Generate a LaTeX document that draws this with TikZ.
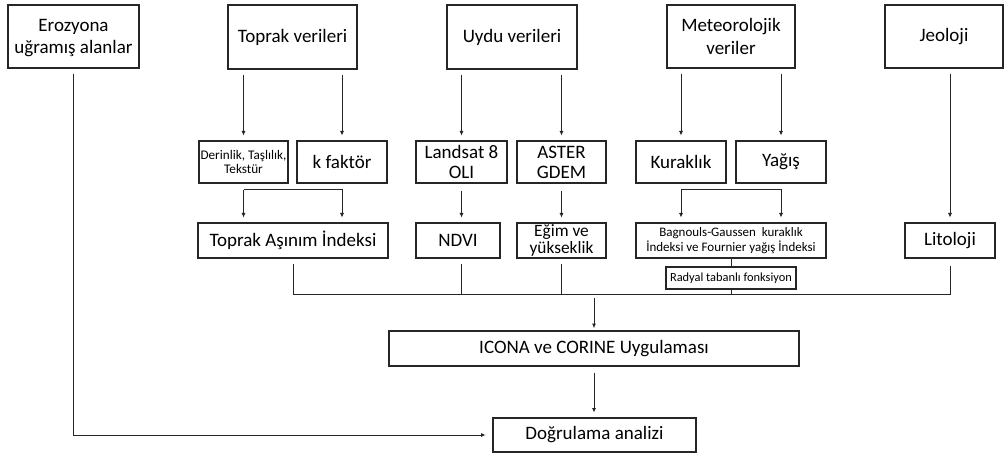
\documentclass[tikz,border=0pt]{standalone}
\usepackage{fontspec}
\setmainfont{Carlito}
\usepackage{tikz}
\usetikzlibrary{arrows.meta,positioning,calc}
\definecolor{ink}{HTML}{262626}

\begin{document}
\begin{tikzpicture}[x=0.75pt,y=-0.75pt,
    kutu/.style={draw=ink,line width=1pt,align=center,inner sep=0pt,font=\fontsize{14.25}{17}\selectfont},
    sz/.style 2 args={minimum width=#1*0.75pt,minimum height=#2*0.75pt},
    ok/.style={-{Latex[length=3.5pt,width=3pt]},ink,line width=0.75pt,shorten >=3.5pt},
    cizgi/.style={ink,line width=0.75pt}]
  \useasboundingbox (0,0) rectangle (1008,456);
  % veri kaynaklari
  \node[kutu,sz={131}{63},text depth=0pt] (eroz) at (73.5,36.5) {Erozyona\\uğramış alanlar};
  \node[kutu,sz={129}{64}] (toprak) at (292.5,37) {Toprak verileri};
  \node[kutu,sz={130}{64}] (uydu) at (512,37) {Uydu verileri};
  \node[kutu,sz={128}{63},text depth=0pt] (meteo) at (731,36.5) {Meteorolojik\\veriler};
  \node[kutu,sz={118}{63}] (jeo) at (944,36.5) {Jeoloji};
  % ara veriler
  \node[kutu,sz={89}{42},font=\fontsize{9.9}{10.5}\selectfont] (derin) at (243.5,162) {Derinlik, Taşlılık,\\Tekstür};
  \node[kutu,sz={90}{42}] (kfak) at (342,162) {k faktör};
  \node[kutu,sz={91}{42},font=\fontsize{14.25}{15}\selectfont] (land) at (461.5,162) {Landsat 8\\OLI};
  \node[kutu,sz={89}{42},font=\fontsize{14.25}{15}\selectfont] (aster) at (561.5,162) {ASTER\\GDEM};
  \node[kutu,sz={90}{42}] (kurak) at (681,162) {Kuraklık};
  \node[kutu,sz={90}{42}] (yagis) at (781,162) {Yağış};
  % indeksler
  \node[kutu,sz={190}{35}] (tai) at (293,240.5) {Toprak Aşınım İndeksi};
  \node[kutu,sz={84}{35}] (ndvi) at (458,240.5) {NDVI};
  \node[kutu,sz={89}{35},font=\fontsize{13}{13}\selectfont] (egim) at (561.5,240.5) {Eğim ve\\yükseklik};
  \node[kutu,sz={190}{35},font=\fontsize{9.75}{11.5}\selectfont] (bagn) at (731,240.5)
    {Bagnouls-Gaussen~ kuraklık\\İndeksi ve Fournier yağış İndeksi};
  \node[kutu,sz={90}{35}] (lito) at (950,240.5) {Litoloji};
  \node[kutu,sz={130}{22},font=\fontsize{9.3}{10.5}\selectfont] (rbf) at (731,278) {Radyal tabanlı fonksiyon};
  % sonuc
  \node[kutu,sz={410}{35}] (icona) at (594,348.5) {ICONA ve CORINE Uygulaması};
  \node[kutu,sz={203}{34}] (dogru) at (594.5,435) {Doğrulama analizi};

  \draw[ok] ($(derin |- toprak.south)+(0,5)$) -- (derin);
  \draw[ok] ($(kfak |- toprak.south)+(0,5)$) -- (kfak);
  \draw[ok] ($(land |- uydu.south)+(0,5)$) -- (land);
  \draw[ok] ($(aster |- uydu.south)+(0,5)$) -- (aster);
  \draw[ok] ($(kurak |- meteo.south)+(0,5)$) -- (kurak);
  \draw[ok] ($(yagis |- meteo.south)+(0,5)$) -- (yagis);
  \draw[ok] ($(lito |- jeo.south)+(0,5)$) -- (lito);
  \draw[ok] ($(derin.south)+(0,6)$) -- (derin |- tai.north);
  \draw[ok] ($(derin.south)+(0,6)$) -| (kfak |- tai.north);
  \draw[ok] ($(kurak.south)+(0,6)$) -- (kurak |- bagn.north);
  \draw[ok] ($(kurak.south)+(0,6)$) -| (yagis |- bagn.north);
  \draw[ok] ($(land.south)+(0,7)$) -- (land |- ndvi.north);
  \draw[ok] ($(aster.south)+(0,7)$) -- (aster |- egim.north);
  % ortak hat
  \draw[cizgi] ($(tai.south)+(0,5)$) |- ($(lito.south)+(0,36)$) -- ($(lito.south)+(0,7)$);
  \draw[cizgi] ($(land |- ndvi.south)+(0,5)$) -- ($(land |- ndvi.south)+(0,36)$);
  \draw[cizgi] ($(egim.south)+(0,5)$) -- ($(egim.south)+(0,36)$);
  \draw[cizgi] (bagn) -- (rbf);
  \draw[cizgi] (rbf.south) -- ($(rbf.south)+(0,5)$);
  \draw[ok,shorten >=1.5pt] ($(icona.north)+(0,-32)$) -- (icona);
  \draw[ok] ($(icona.south)+(0,6)$) -- (icona.south |- dogru.north);
  \draw[ok,shorten >=5pt] ($(eroz.south)+(0,5)$) |- (dogru);
\end{tikzpicture}
\end{document}
